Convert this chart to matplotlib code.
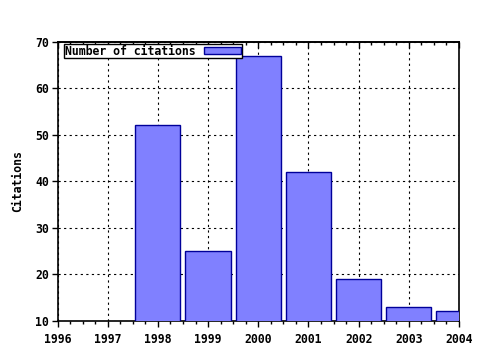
import matplotlib
matplotlib.use("Agg")
import matplotlib.pyplot as plt
from matplotlib.ticker import MultipleLocator

years = [1998, 1999, 2000, 2001, 2002, 2003, 2004]
citations = [52, 25, 67, 42, 19, 13, 12]
year_ticks = [1996, 1997, 1998, 1999, 2000, 2001, 2002, 2003, 2004]
cit_ticks = [10, 20, 30, 40, 50, 60, 70]

plt.rcParams['font.family'] = ['DejaVu Sans Mono']
plt.rcParams['font.weight'] = 'bold'
plt.rcParams['axes.labelweight'] = 'bold'
plt.rcParams['font.size'] = 8.3

fig = plt.figure(figsize=(4.8, 3.5), dpi=100)
ax = fig.add_axes([57.5 / 480, 29.3 / 350, 401.5 / 480, 279 / 350])

ax.bar(years, citations, width=0.9, color='#8080ff', edgecolor='#000099',
       linewidth=1, label='Number of citations', zorder=3)

ax.set_xlim(1996, 2004)
ax.set_ylim(10, 70)
ax.set_xticks(year_ticks)
ax.set_yticks(cit_ticks)
ax.xaxis.set_minor_locator(MultipleLocator(0.25))
ax.grid(True, which='major', color='black', linestyle=(0, (2, 3)), linewidth=0.8, zorder=1)

ax.tick_params(axis='x', which='both', direction='out', length=4, width=1, pad=5)
ax.tick_params(axis='x', which='minor', length=2)
ax.tick_params(axis='y', which='both', direction='out', length=4, width=1, pad=2)

# top axis: ticks pointing inward, no labels
top = ax.secondary_xaxis('top')
top.set_xticks(year_ticks)
top.xaxis.set_minor_locator(MultipleLocator(0.25))
top.tick_params(axis='x', which='both', direction='in', length=4, width=1, labeltop=False)
top.tick_params(axis='x', which='minor', length=2)
top.spines['top'].set_linewidth(1.2)

for s in ax.spines.values():
    s.set_linewidth(1.2)

ax.set_ylabel('Citations', labelpad=8)

leg = ax.legend(loc='upper left', bbox_to_anchor=(6.5 / 401.5, 1 - 2.5 / 279),
                markerfirst=False, fancybox=False, framealpha=1, edgecolor='black',
                borderpad=0.05, handlelength=3.2, handleheight=0.5, handletextpad=0.8,
                borderaxespad=0)
leg.get_frame().set_linewidth(1)

fig.savefig('out.png', dpi=100)
